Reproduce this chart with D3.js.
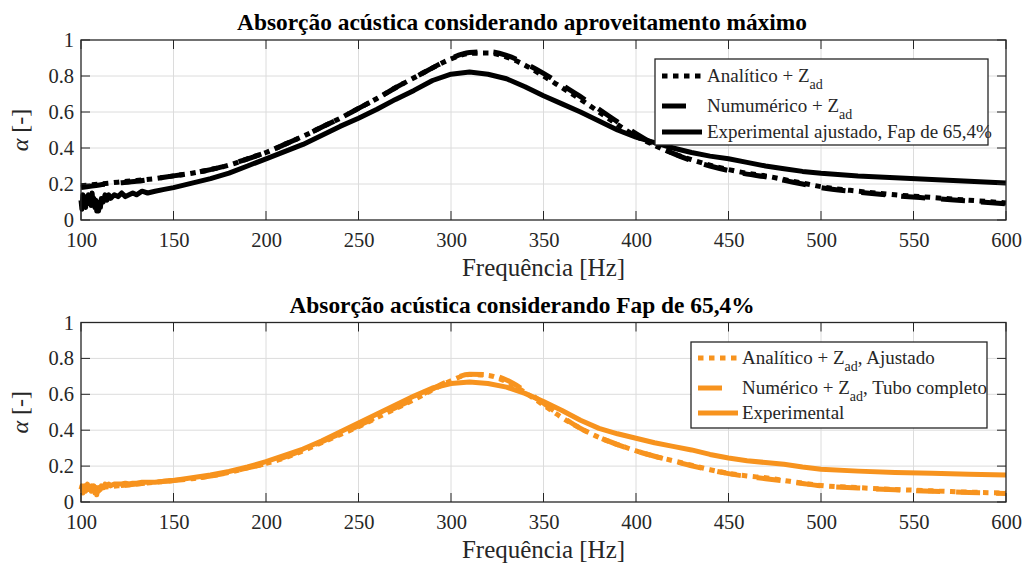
<!DOCTYPE html>
<html><head><meta charset="utf-8">
<script src="https://cdn.jsdelivr.net/npm/d3@7"></script>
<style>body{margin:0;background:#fff}svg{display:block}</style>
</head><body>
<script>
// ---------- DATA ----------
const xTicks = [100,150,200,250,300,350,400,450,500,550,600];
const yTicks = [0,0.2,0.4,0.6,0.8,1];
const yTickLabels = ["0","0.2","0.4","0.6","0.8","1"];

const titleTop = "Absorção acústica considerando aproveitamento máximo";
const titleBot = "Absorção acústica considerando Fap de 65,4%";
const xLabel = "Frequência [Hz]";

// Top panel
const fSmooth = [100,110,120,130,140,150,160,170,180,190,200,210,220,230,240,250,260,270,280,290,300,310,320,330,340,350,360,370,380,390,400,410,420,430,440,450,460,470,480,490,500,520,540,560,580,600];
const topAnalitico = [0.19,0.20,0.21,0.22,0.23,0.245,0.26,0.28,0.305,0.34,0.375,0.42,0.465,0.515,0.565,0.62,0.675,0.735,0.79,0.845,0.895,0.925,0.928,0.905,0.86,0.80,0.735,0.67,0.60,0.53,0.465,0.415,0.37,0.335,0.305,0.28,0.26,0.245,0.225,0.205,0.185,0.16,0.14,0.125,0.11,0.095];
const topNumerico  = [0.18,0.195,0.205,0.215,0.23,0.245,0.26,0.28,0.305,0.34,0.375,0.42,0.465,0.515,0.565,0.62,0.675,0.735,0.79,0.845,0.898,0.93,0.935,0.915,0.87,0.815,0.75,0.685,0.615,0.545,0.48,0.42,0.37,0.33,0.30,0.275,0.255,0.24,0.22,0.20,0.18,0.155,0.135,0.12,0.105,0.09];

const fExp = [100,100.5,101,101.5,102,102.5,103,103.5,104,104.5,105,105.5,106,106.5,107,107.5,108,108.5,109,109.5,110,110.5,111,112,113,114,115,116,118,120,122,124,126,128,130,133,136,140,145,150,160,170,180,190,200,210,220,230,240,250,260,270,280,290,300,310,320,330,340,350,360,370,380,390,400,410,420,430,440,450,460,470,480,490,500,520,540,560,580,600];
const topExperimental = [0.11,0.06,0.14,0.08,0.13,0.07,0.12,0.09,0.14,0.10,0.13,0.08,0.15,0.10,0.12,0.07,0.11,0.05,0.09,0.05,0.10,0.07,0.12,0.10,0.14,0.11,0.14,0.12,0.14,0.13,0.15,0.13,0.14,0.15,0.14,0.16,0.15,0.16,0.17,0.18,0.205,0.23,0.26,0.30,0.34,0.38,0.42,0.47,0.52,0.565,0.615,0.67,0.72,0.775,0.81,0.822,0.81,0.785,0.74,0.69,0.645,0.60,0.55,0.50,0.46,0.43,0.40,0.375,0.355,0.34,0.32,0.30,0.285,0.27,0.26,0.245,0.235,0.225,0.215,0.205];

// Bottom panel
const botAnalitico = [0.07,0.08,0.09,0.10,0.11,0.12,0.13,0.145,0.165,0.19,0.215,0.245,0.285,0.33,0.375,0.42,0.47,0.52,0.57,0.625,0.675,0.71,0.705,0.67,0.61,0.54,0.47,0.41,0.36,0.32,0.285,0.255,0.23,0.205,0.18,0.16,0.145,0.135,0.12,0.105,0.092,0.08,0.07,0.062,0.055,0.05];
const botNumerico  = [0.07,0.08,0.09,0.10,0.11,0.12,0.13,0.145,0.165,0.19,0.215,0.25,0.29,0.335,0.38,0.425,0.475,0.525,0.575,0.63,0.68,0.712,0.71,0.68,0.62,0.55,0.475,0.41,0.36,0.32,0.285,0.255,0.228,0.202,0.178,0.158,0.142,0.13,0.117,0.103,0.09,0.078,0.068,0.06,0.053,0.047];
const botExperimental = [0.07,0.09,0.05,0.08,0.09,0.06,0.08,0.10,0.07,0.09,0.08,0.06,0.09,0.07,0.09,0.05,0.08,0.04,0.07,0.06,0.08,0.07,0.09,0.08,0.10,0.09,0.10,0.09,0.10,0.10,0.10,0.105,0.10,0.105,0.105,0.11,0.11,0.11,0.115,0.12,0.135,0.15,0.17,0.195,0.225,0.26,0.295,0.34,0.39,0.44,0.49,0.54,0.59,0.635,0.66,0.668,0.66,0.64,0.605,0.56,0.51,0.455,0.41,0.38,0.355,0.33,0.31,0.29,0.265,0.245,0.23,0.22,0.21,0.195,0.183,0.172,0.165,0.16,0.155,0.15];

const legTop = [
  {main:"Analítico + Z", sub:"ad", tail:"", style:"dot"},
  {main:"Numumérico + Z", sub:"ad", tail:"", style:"dash"},
  {main:"Experimental ajustado, Fap de 65,4%", sub:"", tail:"", style:"solid"}
];
const legBot = [
  {main:"Analítico + Z", sub:"ad", tail:", Ajustado", style:"dot"},
  {main:"Numérico + Z", sub:"ad", tail:", Tubo completo", style:"dash"},
  {main:"Experimental", sub:"", tail:"", style:"solid"}
];

// ---------- DRAW ----------
const W = 1025, H = 564;
const svg = d3.select("body").append("svg").attr("width", W).attr("height", H);
const serif = "'Liberation Serif','Times New Roman',serif";

const x = d3.scaleLinear().domain([100,600]).range([81,1006]);
const dashStyles = {dot:"5.5,5.5", dash:"24,16", solid:null};
const LW = 5;

function panel(cfg){
  const y = d3.scaleLinear().domain([0,1]).range([cfg.y0, cfg.y1]);
  const g = svg.append("g");
  // grid
  g.append("g").selectAll("line").data(xTicks.slice(1,-1)).join("line")
    .attr("x1", d=>x(d)).attr("x2", d=>x(d)).attr("y1", y(0)).attr("y2", y(1))
    .attr("stroke","#dcdcdc").attr("stroke-width",1);
  g.append("g").selectAll("line").data(yTicks.slice(1,-1)).join("line")
    .attr("y1", d=>y(d)).attr("y2", d=>y(d)).attr("x1", x(100)).attr("x2", x(600))
    .attr("stroke","#dcdcdc").attr("stroke-width",1);

  // series
  const line = d3.line().x(d=>x(d[0])).y(d=>y(d[1]));
  const seriesList = [
    {f:fExp, v:cfg.exp, style:"solid"},
    {f:fSmooth, v:cfg.num, style:"dash"},
    {f:fSmooth, v:cfg.ana, style:"dot"}
  ];
  seriesList.forEach(s=>{
    const pts = s.f.map((f,i)=>[f, s.v[i]]);
    const ln = s.style==="solid" ? line.curve(d3.curveLinear) : line.curve(d3.curveMonotoneX);
    g.append("path").attr("d", ln(pts)).attr("fill","none")
      .attr("stroke", cfg.color).attr("stroke-width", LW)
      .attr("stroke-dasharray", dashStyles[s.style])
      .attr("stroke-linejoin","round")
      .attr("stroke-linecap","butt");
  });

  // inward ticks
  const tk = 9;
  const tg = g.append("g").attr("stroke","#262626").attr("stroke-width",1);
  xTicks.forEach(t=>{
    tg.append("line").attr("x1",x(t)).attr("x2",x(t)).attr("y1",y(0)).attr("y2",y(0)-tk);
    tg.append("line").attr("x1",x(t)).attr("x2",x(t)).attr("y1",y(1)).attr("y2",y(1)+tk);
  });
  yTicks.forEach(t=>{
    tg.append("line").attr("y1",y(t)).attr("y2",y(t)).attr("x1",x(100)).attr("x2",x(100)+tk);
    tg.append("line").attr("y1",y(t)).attr("y2",y(t)).attr("x1",x(600)).attr("x2",x(600)-tk);
  });
  // box
  g.append("rect").attr("x",x(100)).attr("y",y(1)).attr("width",x(600)-x(100)).attr("height",y(0)-y(1))
    .attr("fill","none").attr("stroke","#262626").attr("stroke-width",1.3);

  // axes labels via d3 axis
  const ax = g.append("g").attr("transform",`translate(0,${y(0)})`)
    .call(d3.axisBottom(x).tickValues(xTicks).tickSize(0).tickPadding(12).tickFormat(d3.format("d")));
  ax.select(".domain").remove();
  ax.selectAll("text").attr("font-family",serif).attr("font-size",20.5).attr("fill","#262626");
  const ay = g.append("g").attr("transform",`translate(${x(100)},0)`)
    .call(d3.axisLeft(y).tickValues(yTicks).tickSize(0).tickPadding(7).tickFormat((d,i)=>yTickLabels[i]));
  ay.select(".domain").remove();
  ay.selectAll("text").attr("font-family",serif).attr("font-size",20.5).attr("fill","#262626");

  // x label
  g.append("text").attr("x", x(350)).attr("y", cfg.y0+56).attr("text-anchor","middle")
    .attr("font-family",serif).attr("font-size",25).attr("fill","#262626").text(xLabel);
  // y label
  const yl = g.append("text").attr("transform",`translate(28,${(cfg.y0+cfg.y1)/2}) rotate(-90)`)
    .attr("text-anchor","middle").attr("font-family",serif).attr("font-size",24).attr("fill","#262626");
  yl.append("tspan").attr("font-style","italic").text("α");
  yl.append("tspan").text(" [-]");
  // title
  g.append("text").attr("x",522).attr("y",cfg.y1-10).attr("text-anchor","middle")
    .attr("font-family",serif).attr("font-weight","bold").attr("font-size",23.4).attr("fill","#000")
    .text(cfg.title);

  // legend
  const L = cfg.leg;
  const lg = g.append("g");
  lg.append("rect").attr("x",L.x).attr("y",L.y).attr("width",L.w).attr("height",L.h)
    .attr("fill","#fff").attr("stroke","#262626").attr("stroke-width",1.3);
  cfg.items.forEach((it,i)=>{
    const cy = L.rows[i];
    lg.append("line").attr("x1",L.x+7).attr("x2",L.x+47).attr("y1",cy).attr("y2",cy)
      .attr("stroke",cfg.color).attr("stroke-width",LW).attr("stroke-dasharray",dashStyles[it.style]);
    const t = lg.append("text").attr("x",L.tx).attr("y",cy+6).attr("font-family",serif)
      .attr("font-size",19).attr("fill","#262626");
    t.append("tspan").text(it.main);
    if(it.sub){
      t.append("tspan").attr("dy",7).attr("font-size",14).text(it.sub);
      if(it.tail) t.append("tspan").attr("dy",-7).text(it.tail);
    }
  });
}

panel({y0:220, y1:40, color:"#000", ana:topAnalitico, num:topNumerico, exp:topExperimental,
  title:titleTop, items:legTop,
  leg:{x:655, y:59, w:333, h:86, rows:[76,106,132], tx:707}});
panel({y0:502, y1:322.5, color:"#F7931E", ana:botAnalitico, num:botNumerico, exp:botExperimental,
  title:titleBot, items:legBot,
  leg:{x:691, y:342, w:296, h:86, rows:[358,388,413], tx:742}});
</script>
</body></html>
